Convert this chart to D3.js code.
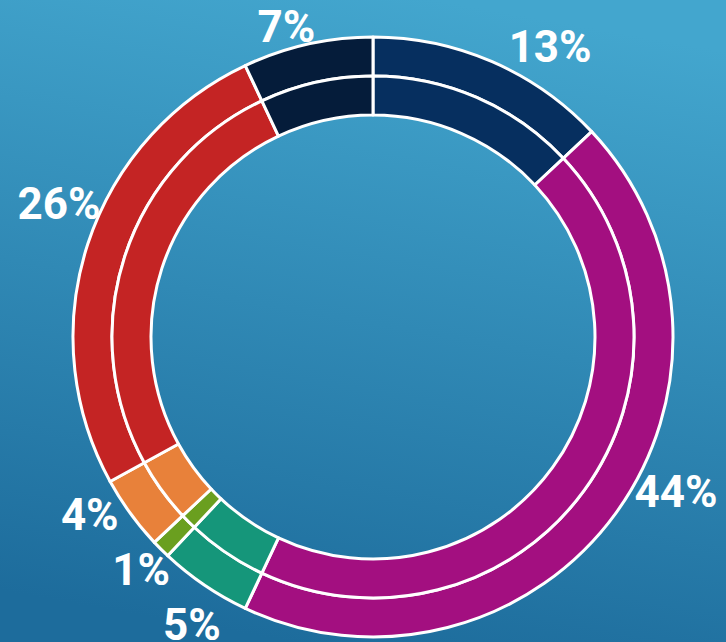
<!DOCTYPE html>
<html>
<head>
<meta charset="utf-8">
<script src="https://cdn.jsdelivr.net/npm/d3@7"></script>
<style>
  html, body { margin: 0; padding: 0; overflow: hidden; }
  svg { display: block; }
</style>
</head>
<body>
<svg></svg>
<script>
// slices, clockwise from 12 o'clock
var labels = ["13%", "44%", "5%", "1%", "4%", "26%", "7%"];
var values = [13, 44, 5, 1, 4, 26, 7];
var colors = ["#062f5f", "#a30f80", "#15967a", "#6a9f1f", "#e8813a", "#c42424", "#051c3a"];
// hand-placed labels: angle nudge (degrees) and distance from centre
var labelNudge = [8, -9, -2, 0, 4, 5, -3];
var labelRadius = [340, 340, 340, 328, 334, 341, 322];

var svgWidth = 726, svgHeight = 642;
var cx = 373, cy = 337;
var rOuter = 300, rMid = 261, rInner = 222;

var svg = d3.select("svg")
  .attr("width", svgWidth)
  .attr("height", svgHeight);

var defs = svg.append("defs");
var grad = defs.append("linearGradient")
  .attr("id", "bg")
  .attr("x1", "0.6").attr("y1", "0")
  .attr("x2", "0.4").attr("y2", "1");
grad.append("stop").attr("offset", "0").attr("stop-color", "#43a6ce");
grad.append("stop").attr("offset", "1").attr("stop-color", "#1d6c9c");

svg.append("rect")
  .attr("width", svgWidth)
  .attr("height", svgHeight)
  .attr("fill", "url(#bg)");

var pie = d3.pie().sort(null).value(function (d) { return d; });
var arcs = pie(values);

var g = svg.append("g")
  .attr("transform", "translate(" + cx + "," + cy + ")");

// two identical rings
[[rMid, rOuter], [rInner, rMid]].forEach(function (r) {
  var arc = d3.arc().innerRadius(r[0]).outerRadius(r[1]);
  g.append("g").selectAll("path")
    .data(arcs)
    .enter()
    .append("path")
    .attr("d", arc)
    .attr("fill", function (d, i) { return colors[i]; })
    .attr("stroke", "#fff")
    .attr("stroke-width", 3)
    .attr("stroke-linejoin", "round");
});

function labelAngle(d, i) {
  return (d.startAngle + d.endAngle) / 2 + labelNudge[i] * Math.PI / 180;
}

g.selectAll("text.lbl")
  .data(arcs)
  .enter()
  .append("text")
  .attr("class", "lbl")
  .attr("x", function (d, i) { return labelRadius[i] * Math.sin(labelAngle(d, i)); })
  .attr("y", function (d, i) { return -labelRadius[i] * Math.cos(labelAngle(d, i)); })
  .attr("dy", "0.355em")
  .attr("text-anchor", "middle")
  .attr("fill", "#fff")
  .attr("font-family", "Roboto, 'Open Sans', sans-serif")
  .attr("font-weight", "bold")
  .attr("font-size", 44)
  .text(function (d, i) { return labels[i]; });
</script>
</body>
</html>
